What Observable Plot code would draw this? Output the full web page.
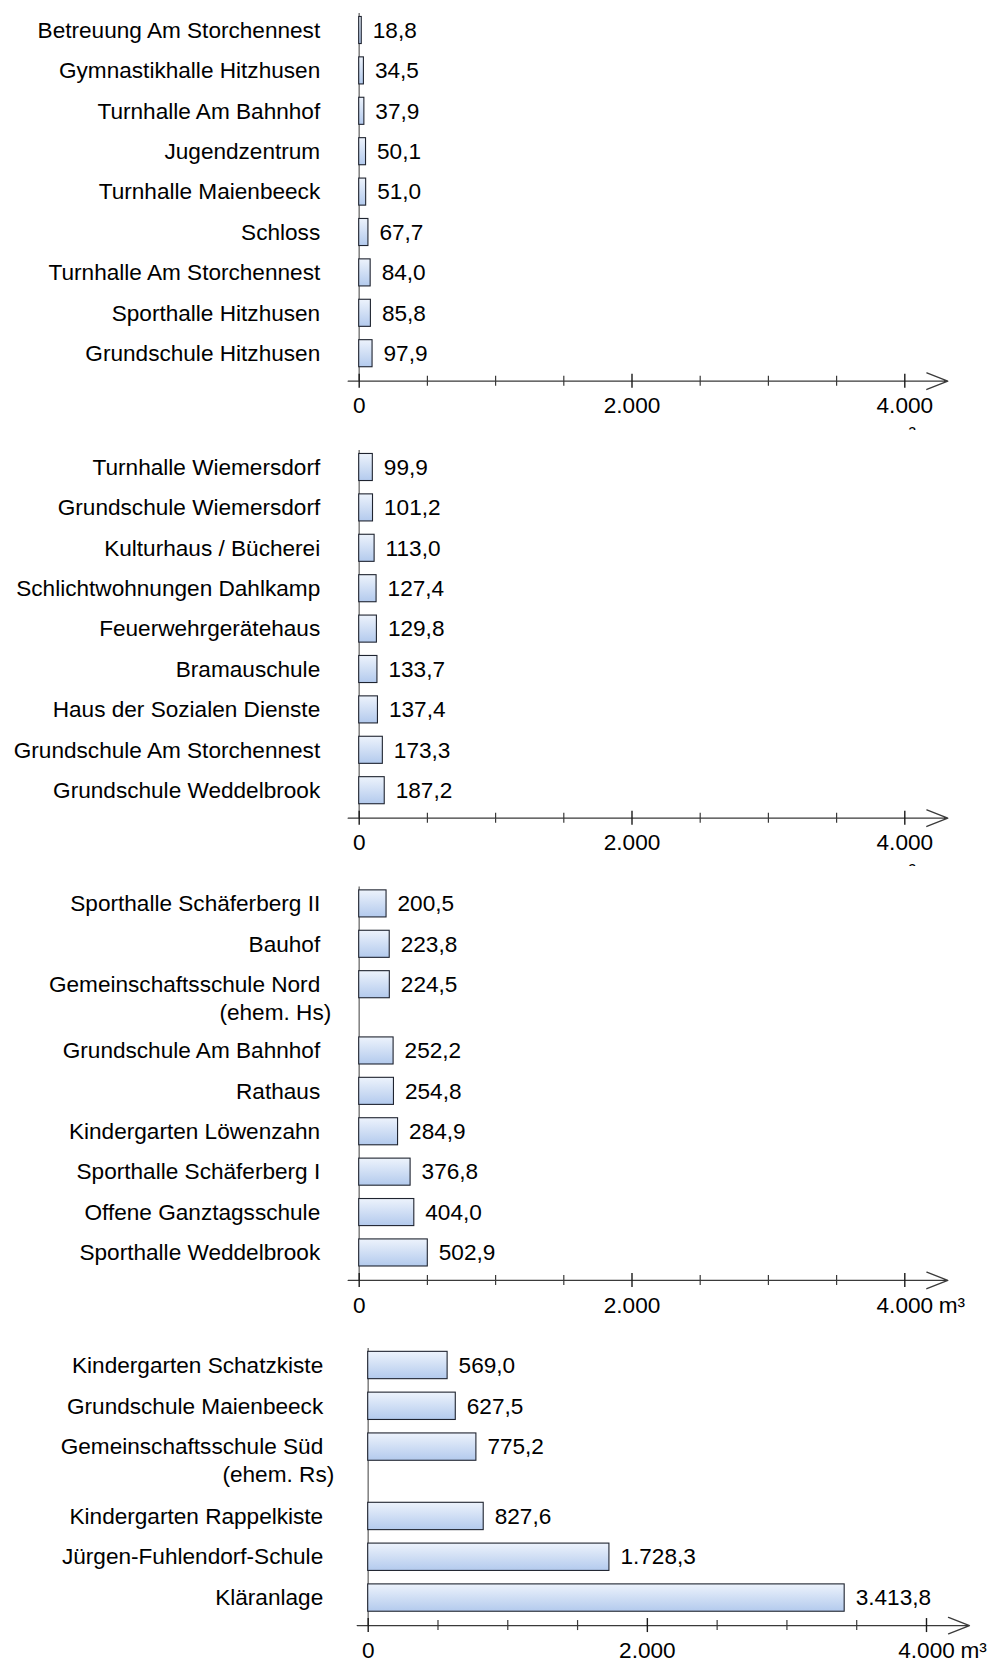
<!DOCTYPE html>
<html><head><meta charset="utf-8">
<script src="https://cdn.jsdelivr.net/npm/d3@7"></script>
<script src="https://cdn.jsdelivr.net/npm/@observablehq/plot@0.6"></script>
<style>
html,body{margin:0;padding:0;background:#fff;}
#chart{position:relative;width:987px;height:1661px;overflow:hidden;background:#fff;}
.panel{position:absolute;left:0;width:987px;overflow:hidden;}
.panel svg{overflow:hidden;}
</style></head><body><div id="chart"></div>
<script>
// ---- data ----
const names1 = ["Betreuung Am Storchennest","Gymnastikhalle Hitzhusen","Turnhalle Am Bahnhof","Jugendzentrum","Turnhalle Maienbeeck","Schloss","Turnhalle Am Storchennest","Sporthalle Hitzhusen","Grundschule Hitzhusen"];
const values1 = [18.8,34.5,37.9,50.1,51.0,67.7,84.0,85.8,97.9];

const names2 = ["Turnhalle Wiemersdorf","Grundschule Wiemersdorf","Kulturhaus / Bücherei","Schlichtwohnungen Dahlkamp","Feuerwehrgerätehaus","Bramauschule","Haus der Sozialen Dienste","Grundschule Am Storchennest","Grundschule Weddelbrook"];
const values2 = [99.9,101.2,113.0,127.4,129.8,133.7,137.4,173.3,187.2];

const names3 = ["Sporthalle Schäferberg II","Bauhof","Gemeinschaftsschule Nord\n(ehem. Hs)","Grundschule Am Bahnhof","Rathaus","Kindergarten Löwenzahn","Sporthalle Schäferberg I","Offene Ganztagsschule","Sporthalle Weddelbrook"];
const values3 = [200.5,223.8,224.5,252.2,254.8,284.9,376.8,404.0,502.9];

const names4 = ["Kindergarten Schatzkiste","Grundschule Maienbeeck","Gemeinschaftsschule Süd\n(ehem. Rs)","Kindergarten Rappelkiste","Jürgen-Fuhlendorf-Schule","Kläranlage"];
const values4 = [569.0,627.5,775.2,827.6,1728.3,3413.8];

const xMax = 4000;
const majorTicks = [0, 2000, 4000];
const minorTicks = [500, 1000, 1500, 2500, 3000, 3500];
const unitLabel = "m³";

// ---- layout (pixels) ----
const panels = [
  {names: names1, values: values1, top: 0,    height: 430, x0: 358.7, x1: 904.3, c0: 30,   step: 40.4, gap: 1.64, labelDx: -39, unitInline: false},
  {names: names2, values: values2, top: 430,  height: 436, x0: 358.7, x1: 904.3, c0: 37,   step: 40.4, gap: 1.64, labelDx: -39, unitInline: false},
  {names: names3, values: values3, top: 866,  height: 464, x0: 358.7, x1: 904.3, c0: 37.4, step: 40.4, gap: 1.64, labelDx: -39, unitInline: true},
  {names: names4, values: values4, top: 1330, height: 331, x0: 367.7, x1: 926.0, c0: 35,   step: 40.8, gap: 1.70, labelDx: -45, unitInline: true}
];

const de = d3.formatLocale({decimal: ",", thousands: ".", grouping: [3], currency: ["", " €"]});
const fmt1 = de.format(",.1f");
const fmt0 = de.format(",.0f");

const FONT = "'Liberation Sans', Arial, Helvetica, sans-serif";
const chart = document.getElementById("chart");

panels.forEach((p, k) => {
  // rows with cumulative positions (two-line labels take more room)
  let pos = 0;
  const rows = p.names.map((n, i) => {
    const [line1, line2] = n.split("\n");
    const r = {name: n, line1, line2, value: p.values[i], pos};
    pos += line2 ? p.gap : 1;
    return r;
  });
  const lastPos = rows[rows.length - 1].pos;
  const base = lastPos + 27.5 / p.step;     // baseline of the x axis
  const axisTop = -17 / p.step;             // top of vertical axis line
  const gid = "barGrad" + k;
  const pxPerUnit = (p.x1 - p.x0) / xMax;

  const marks = [
    Plot.ruleX([0], {x: d => d, y1: axisTop, y2: base, stroke: "#868686", strokeWidth: 1.6}),
    Plot.rect(rows, {x1: 0, x2: "value", y1: d => d.pos - 0.335, y2: d => d.pos + 0.335,
      fill: `url(#${gid})`, stroke: "#1f2430", strokeWidth: 1.1}),
    Plot.text(rows, {x: "value", y: "pos", text: d => fmt1(d.value), textAnchor: "start", dx: 11, fill: "#000"}),
    Plot.text(rows, {x: 0, y: "pos", text: "line1", textAnchor: "end", dx: p.labelDx, fill: "#000"}),
    Plot.text(rows.filter(d => d.line2), {x: 0, y: "pos", text: "line2", textAnchor: "end", dx: p.labelDx + 11, dy: 28, fill: "#000"}),
    Plot.arrow([0], {x1: -11 / pxPerUnit, x2: xMax + 43 / pxPerUnit, y1: base, y2: base,
      stroke: "#3a3a3a", strokeWidth: 1.3, headLength: 26, headAngle: 43}),
    Plot.ruleX(minorTicks, {x: d => d, y1: base, y2: base, insetTop: -5, insetBottom: -5, stroke: "#3a3a3a", strokeWidth: 1.2}),
    Plot.ruleX(majorTicks, {x: d => d, y1: base, y2: base, insetTop: -7, insetBottom: -7, stroke: "#1a1a1a", strokeWidth: 1.4}),
    Plot.text(majorTicks, {x: d => d, y: base, text: d => fmt0(d), dy: 25, fill: "#000"}),
    p.unitInline
      ? Plot.text([unitLabel], {x: xMax, y: base, text: d => d, dy: 25, dx: 34, textAnchor: "start", fill: "#000"})
      : Plot.text([unitLabel], {x: xMax, y: base, text: d => d, dy: 54, dx: -2, fill: "#000"})
  ];

  const svg = Plot.plot({
    width: 987,
    height: p.height,
    margin: 0,
    style: {fontFamily: FONT, fontSize: "22.6px", background: "#fff", overflow: "hidden"},
    x: {type: "linear", domain: [0, xMax], range: [p.x0, p.x1], axis: null},
    y: {type: "linear", domain: [0, 1], range: [p.c0, p.c0 + p.step], axis: null},
    marks
  });

  // vertical gradient for the bars
  const NS = "http://www.w3.org/2000/svg";
  const defs = document.createElementNS(NS, "defs");
  const lg = document.createElementNS(NS, "linearGradient");
  lg.setAttribute("id", gid);
  lg.setAttribute("x1", "0"); lg.setAttribute("y1", "0");
  lg.setAttribute("x2", "0"); lg.setAttribute("y2", "1");
  [["0%", "#edf3fc"], ["100%", "#b3caed"]].forEach(([o, c]) => {
    const s = document.createElementNS(NS, "stop");
    s.setAttribute("offset", o); s.setAttribute("stop-color", c);
    lg.appendChild(s);
  });
  defs.appendChild(lg);
  svg.insertBefore(defs, svg.firstChild);

  const div = document.createElement("div");
  div.className = "panel";
  div.style.top = p.top + "px";
  div.style.height = p.height + "px";
  div.appendChild(svg);
  chart.appendChild(div);
});
</script>
</body></html>
